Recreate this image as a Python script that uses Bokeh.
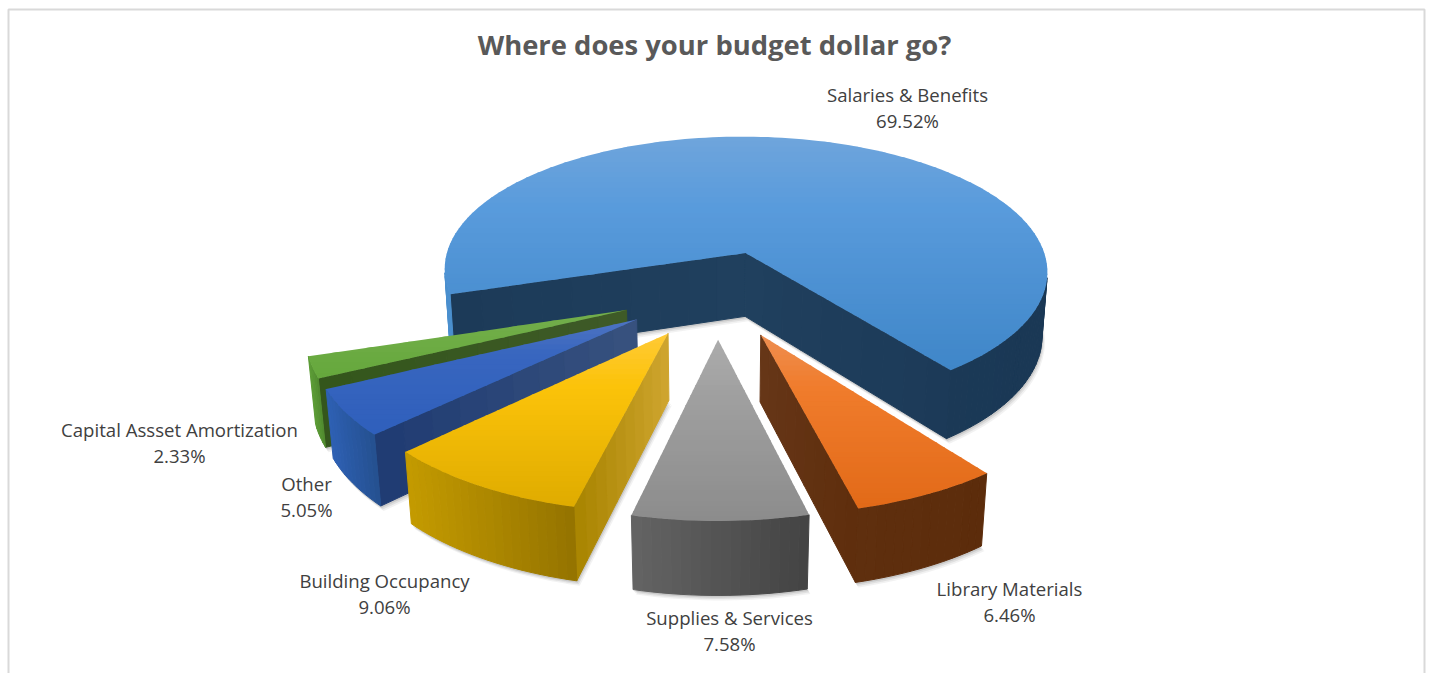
import math
from bokeh.plotting import figure
from bokeh.core.properties import value
from bokeh.embed import file_html
from bokeh.resources import INLINE

# ---- data ----
categories = ["Salaries & Benefits", "Library Materials", "Supplies & Services",
              "Building Occupancy", "Other", "Capital Assset Amortization"]
shares = [69.52, 6.46, 7.58, 9.06, 5.05, 2.33]
title_text = "Where does your budget dollar go?"

# ---- styles: top (far, mid, near), outer wall (left, right), radial wall (apex, rim) ----
top_far = ["#6fa5dc", "#ee8f52", "#acacac", "#ffca36", "#4e74c2", "#74ae4c"]
top_mid = ["#599bdc", "#f07c2c", "#a0a0a0", "#fcc30a", "#3866bf", "#70ad47"]
top_near = ["#3f86c8", "#e26a18", "#8c8c8c", "#dfab00", "#2f5fbc", "#65a83c"]
wall_left = ["#1e3e5c", "#5f2f0e", "#646464", "#c49b00", "#2e60b4", "#5c9c36"]
wall_right = ["#1a3855", "#5c2c0b", "#434343", "#947300", "#24508f", "#4f8a2e"]
radial_apex = ["#20405e", "#663618", "#8a8a8a", "#d0a630", "#38527f", "#3f5a28"]
radial_rim = ["#1c3a58", "#5f2e0c", "#7a7a7a", "#a88400", "#1f3b72", "#33561b"]
main_back_wall = "#4a8fce"
draw_order = [0, 5, 4, 3, 1, 2]

# ---- text layout ----
label_x = [907, 1009, 729, 384, 306, 179]
label_y = [94, 588, 617, 580, 483, 429]
line_gap = 26

# ---- camera ----
CX, CY = 717.0, 293.0
F, D = 2020.0, 6.5
PHI = math.radians(27.3)
EXPLODE, H = 0.31, 0.24
START = 252.5


def project(X, Y, Z):
    yc = Y * math.sin(PHI) + Z * math.cos(PHI)
    zc = Y * math.cos(PHI) - Z * math.sin(PHI)
    s = F / (D + zc)
    return CX + X * s, CY - yc * s


def mix(a, b, t):
    t = max(0.0, min(1.0, t))
    ca = [int(a[i:i + 2], 16) for i in (1, 3, 5)]
    cb = [int(b[i:i + 2], 16) for i in (1, 3, 5)]
    return "#%02x%02x%02x" % tuple(round(p + (q - p) * t) for p, q in zip(ca, cb))


def ramp(i, t):
    if t < 0.3:
        return mix(top_far[i], top_mid[i], t / 0.3)
    return mix(top_mid[i], top_near[i], (t - 0.3) / 0.7)


def clip(poly, y0, y1):
    def cut(pts, lim, keep_above):
        out = []
        for i, p in enumerate(pts):
            q = pts[(i + 1) % len(pts)]
            ip = (p[1] >= lim) == keep_above
            iq = (q[1] >= lim) == keep_above
            if ip:
                out.append(p)
            if ip != iq:
                t = (lim - p[1]) / (q[1] - p[1])
                out.append((p[0] + (q[0] - p[0]) * t, lim))
        return out
    r = cut(poly, y0, True)
    return cut(r, y1, False) if r else r


p = figure(width=1429, height=673, x_range=(0, 1429), y_range=(673, 0),
           output_backend="svg", toolbar_location=None, min_border=0)
p.axis.visible = False
p.grid.visible = False
p.outline_line_color = None
p.background_fill_color = "#ffffff"

# chart border
p.line([8, 8, 1424, 1424], [680, 9, 9, 680], line_color="#d9d9d9", line_width=2)

xs, ys, cols, alphas, lalphas = [], [], [], [], []


def add(poly, col, a=1.0, stroke=True):
    xs.append([q[0] for q in poly])
    ys.append([q[1] for q in poly])
    cols.append(col)
    alphas.append(a)
    lalphas.append(a if stroke else 0.0)


cum = [START]
for v in shares:
    cum.append(cum[-1] + v * 3.6)

C = (0.0, -D * math.cos(PHI), D * math.sin(PHI))

for i in draw_order:
    t0, t1 = cum[i], cum[i + 1]
    mid = math.radians((t0 + t1) / 2)
    ox, oy = EXPLODE * math.sin(mid), EXPLODE * math.cos(mid)
    n = max(3, int((t1 - t0) / 1.5))
    angs = [math.radians(t0 + (t1 - t0) * k / n) for k in range(n + 1)]
    rim = lambda a, z: project(ox + math.sin(a), oy + math.cos(a), z)
    apex = lambda z: project(ox, oy, z)

    # soft shadow
    bottom = [apex(-H)] + [rim(a, -H) for a in angs]
    for dx, dy, al in [(3, 5, .07), (2, 3.5, .10), (1, 2, .14)]:
        add([(q[0] + dx, q[1] + dy) for q in bottom], "#404040", al, stroke=False)

    # radial walls
    a0, a1 = angs[0], angs[-1]
    for a, nx, ny in [(a0, -math.cos(a0), math.sin(a0)), (a1, math.cos(a1), -math.sin(a1))]:
        if nx * (C[0] - ox) + ny * (C[1] - oy) > 0:
            m = 10
            for k in range(m):
                r0, r1 = k / m, (k + 1) / m
                quad = [project(ox + r0 * math.sin(a), oy + r0 * math.cos(a), 0),
                        project(ox + r1 * math.sin(a), oy + r1 * math.cos(a), 0),
                        project(ox + r1 * math.sin(a), oy + r1 * math.cos(a), -H),
                        project(ox + r0 * math.sin(a), oy + r0 * math.cos(a), -H)]
                add(quad, mix(radial_apex[i], radial_rim[i], (k + .5) / m))

    # outer wall
    strips = []
    for k in range(n):
        a, b = angs[k], angs[k + 1]
        c = (a + b) / 2
        px, py = ox + math.sin(c), oy + math.cos(c)
        if math.sin(c) * (C[0] - px) + math.cos(c) * (C[1] - py) > 0:
            strips.append((a, b))
    if strips:
        sx = [rim(a, 0)[0] for s in strips for a in s]
        lo, hi = min(sx), max(sx)
        for a, b in strips:
            quad = [rim(a, 0), rim(b, 0), rim(b, -H), rim(a, -H)]
            mx = (quad[0][0] + quad[1][0]) / 2
            col = mix(wall_left[i], wall_right[i], (mx - lo) / max(hi - lo, 1))
            if i == 0 and mx < CX:
                col = main_back_wall
            add(quad, col)

    # top face as overlapping horizontal bands
    top = [apex(0)] + [rim(a, 0) for a in angs]
    ymin, ymax = min(q[1] for q in top), max(q[1] for q in top)
    bands = max(8, int((ymax - ymin) / 5))
    for k in range(bands):
        y0 = ymin + (ymax - ymin) * k / bands
        y1 = ymin + (ymax - ymin) * (k + 1) / bands + 1.0
        piece = clip(top, y0, y1)
        if len(piece) >= 3:
            add(piece, ramp(i, (k + .5) / bands), stroke=False)

p.patches(xs, ys, fill_color=cols, line_color=cols, fill_alpha=alphas, line_alpha=lalphas, line_width=1.0)

# texts
p.text([714], [44], text=[title_text], text_font=value("Open Sans"), text_font_style="bold",
       text_font_size="27.4px", text_color="#595959", text_align="center", text_baseline="middle")
pct = [f"{v:.2f}%" for v in shares]
p.text(label_x, label_y, text=categories, text_font=value("Open Sans"), text_font_size="18.6px",
       text_color="#404040", text_align="center", text_baseline="middle")
p.text(label_x, [y + line_gap for y in label_y], text=pct, text_font=value("Open Sans"),
       text_font_size="18.6px", text_color="#404040", text_align="center", text_baseline="middle")

open("out.html", "w").write(file_html(p, INLINE))
